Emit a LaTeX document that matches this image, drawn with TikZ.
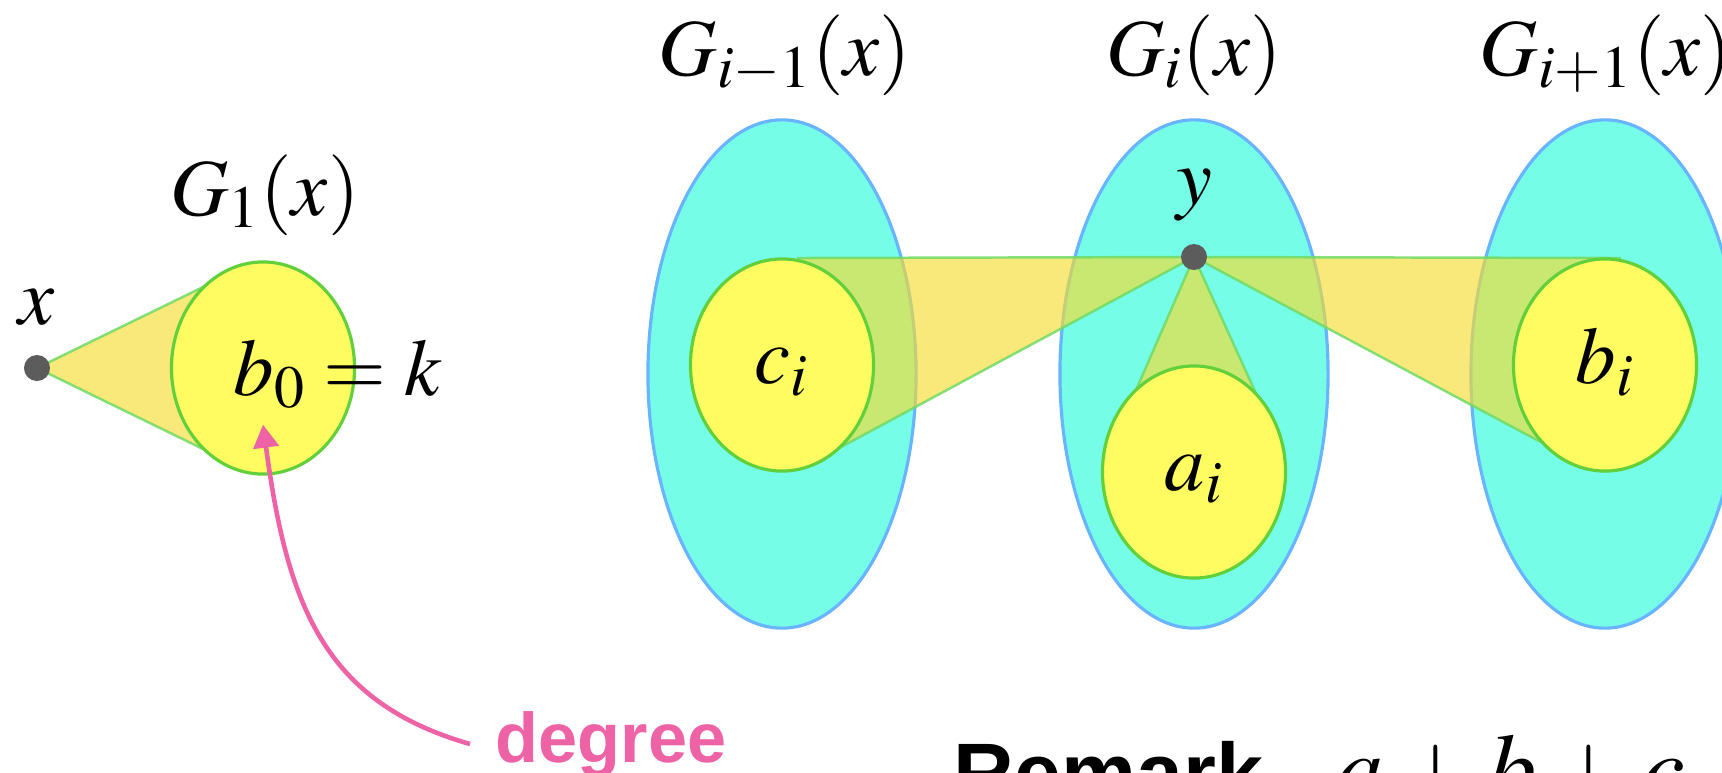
\documentclass[tikz,border=0pt]{standalone}
\usepackage{mathptmx}
\usepackage[no-math]{fontspec}
\setsansfont{Liberation Sans}
\usetikzlibrary{arrows.meta,positioning,shapes.geometric,backgrounds}

\definecolor{setcyan}{RGB}{118,253,232}
\definecolor{setblue}{RGB}{104,180,255}
\definecolor{nbhyellow}{RGB}{255,252,98}
\definecolor{nbhgreen}{RGB}{98,208,58}
\definecolor{conegold}{RGB}{246,221,50}
\definecolor{coneline}{RGB}{112,218,102}
\definecolor{dotgray}{RGB}{92,92,92}
\definecolor{degpink}{RGB}{238,98,166}

\begin{document}
\begin{tikzpicture}[x=0.01cm,y=-0.01cm,
  lab/.style={font=\fontsize{23}{27}\selectfont,inner sep=0pt,anchor=base},
  level/.style={ellipse,draw=setblue,line width=0.9pt,fill=setcyan,minimum width=2.68cm,minimum height=5.08cm,inner sep=0pt},
  nbh/.style={ellipse,draw=nbhgreen,line width=0.9pt,fill=nbhyellow,minimum width=1.83cm,minimum height=2.12cm,inner sep=0pt,
    font=\fontsize{23}{27}\selectfont,text height=0.5cm,text depth=0.14cm},
  pt/.style={circle,fill=dotgray,minimum size=0.26cm,inner sep=0pt},
  cone/.style={fill=conegold,fill opacity=0.65},
  coneedge/.style={draw=coneline,draw opacity=0.85,line width=0.7pt},
  degarrow/.style={-{Triangle[length=0.23cm,width=0.25cm]},draw=degpink,line width=1.3pt}]
\useasboundingbox (0,0) rectangle (1722,772);
% vertices
\node[pt](x) at (37,368){};
\node[pt](y) at (1194,257){};
% neighbourhoods
\node[nbh](b0) at (263,368){};
\node[nbh](ci) at (782,365){$c_i$};
\node[nbh](ai) at (1194,472){$a_i$};
\node[nbh](bi) at (1605,365){$b_i$};
% levels and cones behind
\begin{scope}[on background layer]
\node[level](gm) at (782,374){};
\node[level](g) at (1194,374){};
\node[level](gp) at (1605,374){};
\fill[cone] (x.center) -- (240,269) -- (240,467) -- cycle;
\draw[coneedge] (240,269) -- (x.center) -- (240,467);
\fill[cone] (y.center) -- (797,258) -- (782,365) -- (815,461) -- cycle;
\draw[coneedge] (797,258) -- (y.center) -- (815,461);
\fill[cone] (y.center) -- (1621,258) -- (1605,365) -- (1580,463) -- cycle;
\draw[coneedge] (1621,258) -- (y.center) -- (1580,463);
\fill[cone] (y.center) -- (1123,420) -- (1268,420) -- cycle;
\draw[coneedge] (1123,420) -- (y.center) -- (1268,420);
\end{scope}
% labels
\node[lab,above=2.8mm of x](xl){$x$};
\node[lab,above=2.2mm of y](yl){$y$};
\node[lab](g1l) at (265,215){$G_1(x)$};
\node[lab](gml) at (785,75){$G_{i-1}(x)$};
\node[lab](gl) at (1194,75){$G_i(x)$};
\node[lab](gpl) at (1606,75){$G_{i+1}(x)$};
\node[lab,anchor=base west](b0l) at (233,395){$b_0=k$};
% degree pointer
\node[font=\sffamily\bfseries\fontsize{20}{24}\selectfont,text=degpink,inner ysep=0pt,inner xsep=0.25cm,anchor=base](deg) at (611,762){degree};
\draw[degarrow] (deg.west) .. controls (323,702) and (287,603) .. ([yshift=0.51cm]b0.south);
% remark (cut by the border)
\node[font=\sffamily\bfseries\fontsize{24}{29}\selectfont,inner sep=0pt,anchor=base west](rem) at (953,802){Remark};
\node[font=\fontsize{28}{34}\selectfont,inner sep=0pt,base right=7mm of rem](sum){$a+b+c$};
\end{tikzpicture}
\end{document}
